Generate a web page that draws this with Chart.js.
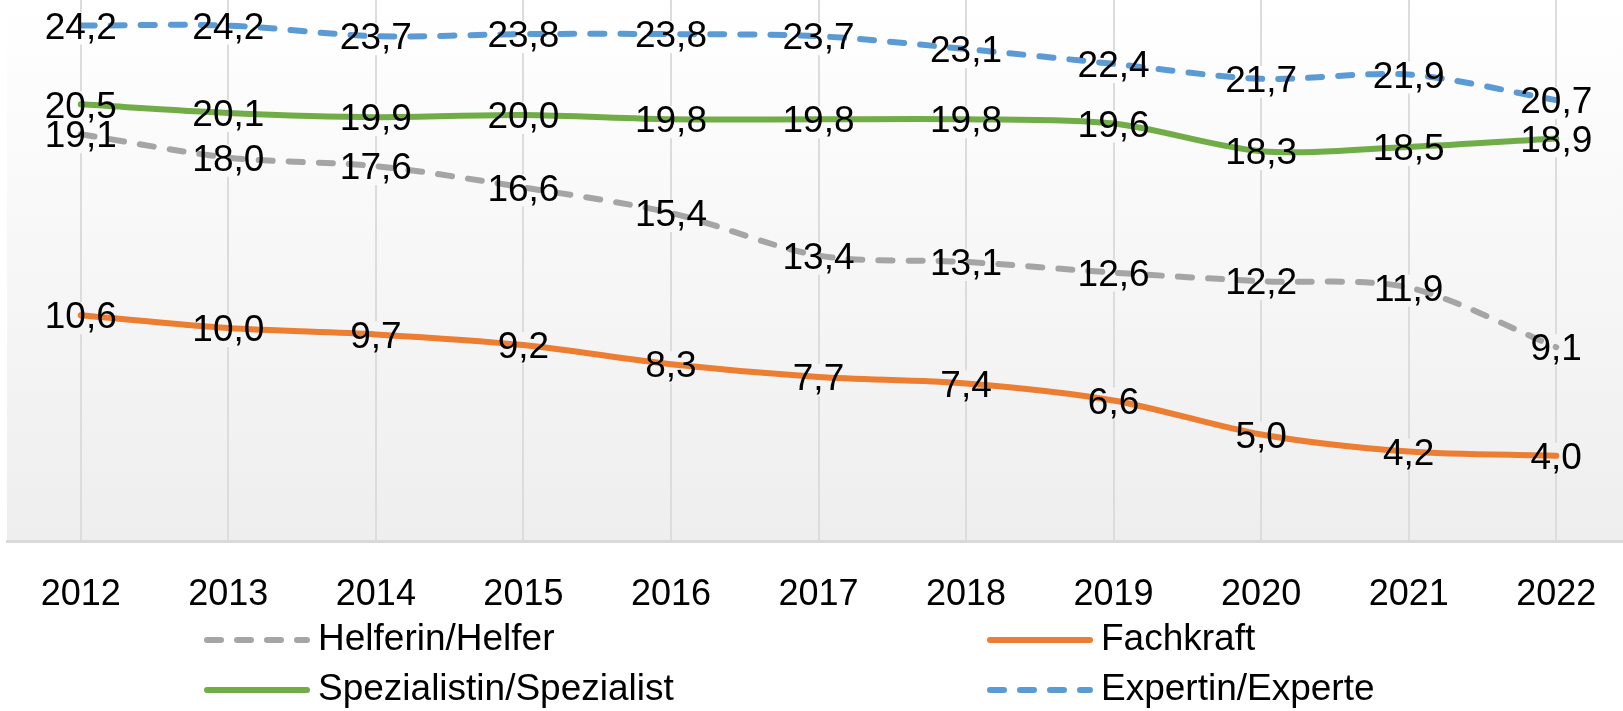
<!DOCTYPE html>
<html>
<head>
<meta charset="utf-8">
<script src="https://cdn.jsdelivr.net/npm/chart.js@4/dist/chart.umd.min.js"></script>
<style>
  html, body { margin: 0; padding: 0; background: #fff; overflow: hidden; }
  #wrap { width: 1630px; height: 711px; position: relative; }
</style>
</head>
<body>
<div id="wrap"><canvas id="chart"></canvas></div>
<script>
const years = ['2012', '2013', '2014', '2015', '2016', '2017', '2018', '2019', '2020', '2021', '2022']
const helfer = [19.1, 18.0, 17.6, 16.6, 15.4, 13.4, 13.1, 12.6, 12.2, 11.9, 9.1]
const fachkraft = [10.6, 10.0, 9.7, 9.2, 8.3, 7.7, 7.4, 6.6, 5.0, 4.2, 4.0]
const spezialist = [20.5, 20.1, 19.9, 20.0, 19.8, 19.8, 19.8, 19.6, 18.3, 18.5, 18.9]
const experte = [24.2, 24.2, 23.7, 23.8, 23.8, 23.7, 23.1, 22.4, 21.7, 21.9, 20.7]

const FONT = "'Liberation Sans', Arial, sans-serif"
const DASH = [14, 16]

function fmt(v) {
    return v.toFixed(1).replace('.', ',')
}

function plotGradient(chart) {
    const a = chart.chartArea
    const g = chart.ctx.createLinearGradient(0, a.top, 0, a.bottom)
    g.addColorStop(0, '#ffffff')
    g.addColorStop(1, '#eeeeee')
    return g
}

// plot area background (white -> light grey)
const bgPlugin = {
    id: 'bg',
    beforeDraw(chart) {
        const { ctx, chartArea: a } = chart
        ctx.save()
        ctx.fillStyle = plotGradient(chart)
        ctx.fillRect(a.left, a.top, a.right - a.left, a.bottom - a.top)
        ctx.restore()
    }
}

// data labels: box behind (hides gridlines), text on top of lines
const labelPlugin = {
    id: 'labels',
    beforeDatasetsDraw(chart) {
        const ctx = chart.ctx
        ctx.save()
        ctx.font = '37px ' + FONT
        ctx.fillStyle = plotGradient(chart)
        chart.data.datasets.forEach((ds, i) => {
            chart.getDatasetMeta(i).data.forEach((pt, j) => {
                const w = ctx.measureText(fmt(ds.data[j])).width
                ctx.fillRect(pt.x - w / 2 - 2, pt.y + 3 - 16, w + 4, 32)
            })
        })
        ctx.restore()
    },
    afterDatasetsDraw(chart) {
        const ctx = chart.ctx
        ctx.save()
        ctx.font = '37px ' + FONT
        ctx.fillStyle = '#000'
        ctx.textAlign = 'center'
        ctx.textBaseline = 'middle'
        chart.data.datasets.forEach((ds, i) => {
            chart.getDatasetMeta(i).data.forEach((pt, j) => {
                ctx.fillText(fmt(ds.data[j]), pt.x, pt.y + 3)
            })
        })
        ctx.restore()
    }
}

// legend in a 2x2 grid below the axis
const legendPlugin = {
    id: 'gridLegend',
    afterDraw(chart) {
        const ctx = chart.ctx
        const cols = [204, 987]
        const rows = [640, 690]
        ctx.save()
        ctx.font = '37px ' + FONT
        ctx.textBaseline = 'middle'
        chart.data.datasets.forEach((ds, i) => {
            const x = cols[i % 2]
            const y = rows[Math.floor(i / 2)]
            ctx.strokeStyle = ds.borderColor
            ctx.lineWidth = 6
            ctx.lineCap = 'round'
            ctx.setLineDash(ds.borderDash || [])
            ctx.beginPath()
            ctx.moveTo(x + 3, y)
            ctx.lineTo(x + 103, y)
            ctx.stroke()
            ctx.setLineDash([])
            ctx.fillStyle = '#000'
            ctx.fillText(ds.label, x + 114, y)
        })
        ctx.restore()
    }
}

new Chart(document.getElementById('chart'), {
    type: 'line',
    data: {
        labels: years,
        datasets: [
            { label: 'Helferin/Helfer', data: helfer, borderColor: '#a5a5a5', borderDash: DASH },
            { label: 'Fachkraft', data: fachkraft, borderColor: '#ed7d31' },
            { label: 'Spezialistin/Spezialist', data: spezialist, borderColor: '#70ad47' },
            { label: 'Expertin/Experte', data: experte, borderColor: '#5b9bd5', borderDash: DASH }
        ]
    },
    options: {
        responsive: true,
        maintainAspectRatio: false,
        animation: false,
        layout: { padding: { left: 7, right: 0, top: 0, bottom: 0 } },
        elements: {
            line: { borderWidth: 6, tension: 0.3, borderCapStyle: 'round', borderJoinStyle: 'round', fill: false },
            point: { radius: 0, hoverRadius: 0 }
        },
        plugins: {
            legend: { display: false },
            tooltip: { enabled: false }
        },
        scales: {
            x: {
                offset: true,
                grid: { offset: false, color: '#dcdcdc', lineWidth: 2, drawTicks: false },
                border: { color: '#d9d9d9', width: 3 },
                ticks: { color: '#000', font: { family: FONT, size: 36 }, padding: 32, maxRotation: 0 },
                afterFit(scale) { scale.height = 170 }
            },
            y: {
                display: false,
                min: 0,
                max: 25.4
            }
        }
    },
    plugins: [bgPlugin, labelPlugin, legendPlugin]
})
</script>
</body>
</html>
